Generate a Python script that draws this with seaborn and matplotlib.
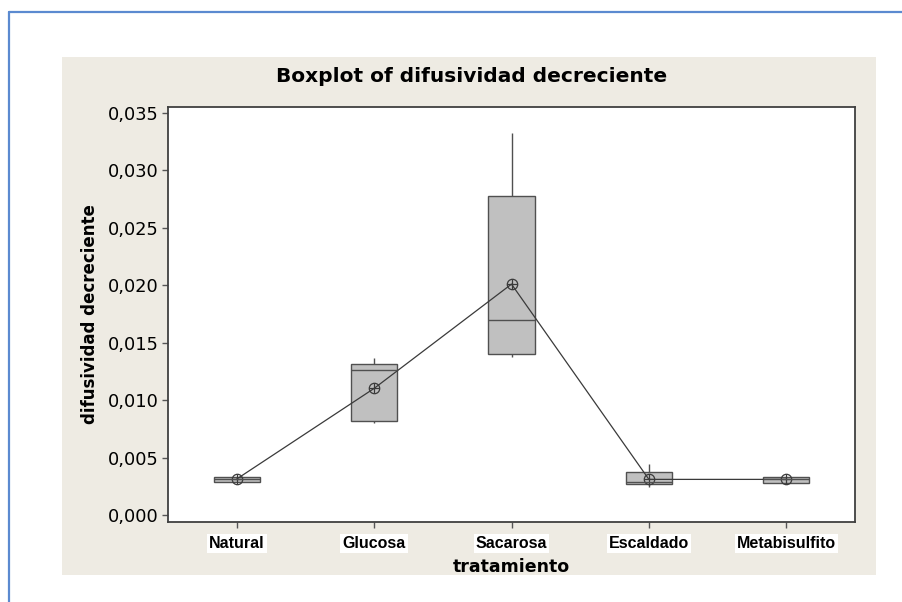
import numpy as np
import pandas as pd
import matplotlib
matplotlib.use("Agg")
import matplotlib.pyplot as plt
from matplotlib.patches import Rectangle
from matplotlib.lines import Line2D
import seaborn as sns

# ---- data ----
categories = ["Natural", "Glucosa", "Sacarosa", "Escaldado", "Metabisulfito"]
# five-number summaries: min, Q1, median, Q3, max
natural = [0.00290, 0.00290, 0.00313, 0.00334, 0.00334]
glucosa = [0.00800, 0.00818, 0.01265, 0.01315, 0.01364]
sacarosa = [0.01376, 0.01399, 0.01698, 0.02780, 0.03326]
escaldado = [0.00246, 0.00270, 0.00287, 0.00377, 0.00444]
metabisulfito = [0.00281, 0.00281, 0.00313, 0.00334, 0.00334]
means = [0.00313, 0.01102, 0.02010, 0.00310, 0.00310]
yticks = [0.000, 0.005, 0.010, 0.015, 0.020, 0.025, 0.030, 0.035]
ytick_labels = ["0,000", "0,005", "0,010", "0,015", "0,020", "0,025", "0,030", "0,035"]

title = "Boxplot of difusividad decreciente"
xlabel = "tratamiento"
ylabel = "difusividad decreciente"

series = [natural, glucosa, sacarosa, escaldado, metabisulfito]
df = pd.DataFrame({
    "tratamiento": np.repeat(categories, [len(s) for s in series]),
    "valor": np.concatenate(series),
})

sns.set_style("white")
plt.rcParams["font.family"] = ["DejaVu Sans"]
plt.rcParams["text.color"] = "black"

fig = plt.figure(figsize=(9.02, 6.02), dpi=100)
fig.patch.set_facecolor("white")

# beige panel
fig.add_artist(Rectangle((62 / 902, 1 - 575 / 602), (876 - 62) / 902, (575 - 57) / 602,
                         transform=fig.transFigure, facecolor="#EEEBE3", edgecolor="none", zorder=0))
# blue frame (top & left)
fig.add_artist(Line2D([9 / 902, 1.0], [1 - 12 / 602, 1 - 12 / 602], transform=fig.transFigure,
                      color="#5B8AD0", linewidth=1.6))
fig.add_artist(Line2D([9 / 902, 9 / 902], [0.0, 1 - 12 / 602], transform=fig.transFigure,
                      color="#5B8AD0", linewidth=1.6))

ax = fig.add_axes([168 / 902, 1 - 522 / 602, (855 - 168) / 902, (522 - 107) / 602])
ax.set_facecolor("white")

sns.boxplot(data=df, x="tratamiento", y="valor", order=categories, whis=np.inf,
            width=0.335, color="#C0C0C0", linecolor="#505050", linewidth=1.0,
            saturation=1, showcaps=False, ax=ax)

sns.pointplot(x=categories, y=means, order=categories, color="#3A3A3A", markers="o",
              markersize=7.5, linewidth=0.9, errorbar=None, markerfacecolor="none",
              markeredgewidth=0.9, ax=ax)
sns.pointplot(x=categories, y=means, order=categories, color="#3A3A3A", markers="+",
              markersize=7.5, linestyle="none", errorbar=None, markeredgewidth=0.9, ax=ax)

ax.set_xlim(-0.5, 4.5)
ax.set_ylim(-0.00061, 0.03552)
ax.set_yticks(yticks)
ax.set_yticklabels(ytick_labels, fontsize=12.8, color="black")
ax.set_xticks(range(len(categories)))
ax.set_xticklabels(categories, fontsize=11.5, fontweight="bold", family="Liberation Sans",
                   color="black")
for lbl in ax.get_xticklabels():
    lbl.set_bbox(dict(facecolor="white", edgecolor="none", pad=1.5))

ax.tick_params(axis="both", direction="out", length=4, width=1, color="#555555",
               left=True, bottom=True)
ax.tick_params(axis="x", pad=6)
ax.tick_params(axis="y", pad=3)
for sp in ax.spines.values():
    sp.set_visible(True)
    sp.set_color("#404040")
    sp.set_linewidth(1.3)

ax.set_xlabel(xlabel, fontsize=12.5, fontweight="bold", labelpad=5, color="black")
ax.set_ylabel(ylabel, fontsize=12, fontweight="bold", labelpad=6, color="black")
fig.text(472 / 902, 1 - 77 / 602, title, ha="center", va="center", fontsize=14.5,
         fontweight="bold", color="black")

fig.savefig("out.png", dpi=100)
